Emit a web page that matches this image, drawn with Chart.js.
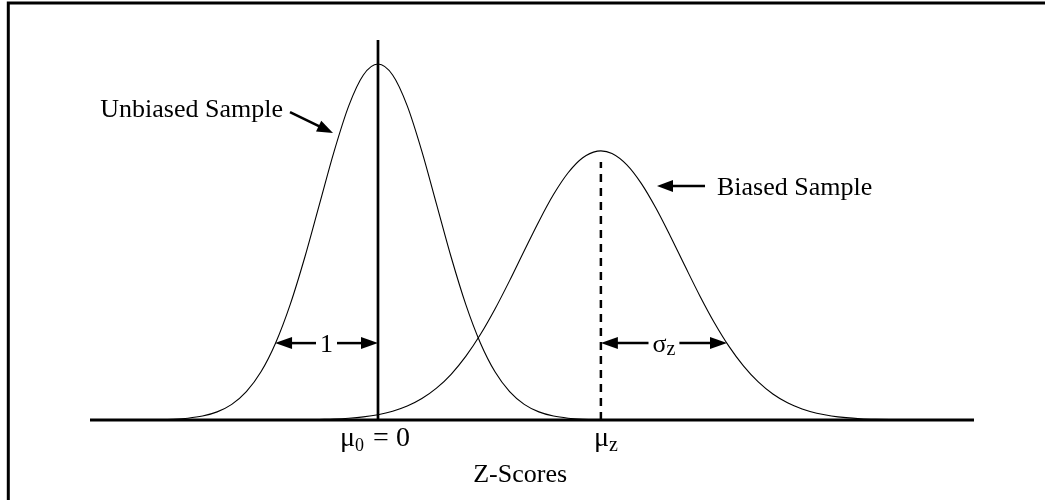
<!DOCTYPE html>
<html><head><meta charset="utf-8">
<script src="https://cdn.jsdelivr.net/npm/chart.js@4.4.0/dist/chart.umd.min.js"></script>
<style>html,body{margin:0;padding:0;background:#fff;}#wrap{width:1045px;height:500px;position:relative;}</style>
</head><body><div id="wrap"><canvas id="c" width="1045" height="500"></canvas></div>
<script>
// ---- data (x in z units, y relative to the unbiased peak) ----
const unbiasedX = [-4.75,-4.5,-4.25,-4,-3.75,-3.5,-3.25,-3,-2.75,-2.5,-2.25,-2,-1.75,-1.5,-1.25,-1,-0.75,-0.5,-0.25,0,
                   0.25,0.5,0.75,1,1.25,1.5,1.75,2,2.25,2.5,2.75,3,3.25,3.5,3.75,4,4.25,4.5,4.75];
const unbiasedY = [0,0,0.0001,0.0003,0.0009,0.0022,0.0051,0.0111,0.0228,0.0439,0.0796,0.1353,0.2163,0.3247,0.4578,0.6065,0.7548,0.8825,0.9692,1,
                   0.9692,0.8825,0.7548,0.6065,0.4578,0.3247,0.2163,0.1353,0.0796,0.0439,0.0228,0.0111,0.0051,0.0022,0.0009,0.0003,0.0001,0,0];
const biasedX = [-1,-0.75,-0.5,-0.25,0,0.25,0.5,0.75,1,1.25,1.5,1.75,2,2.25,2.5,2.75,3,3.25,3.5,3.75,3.81,
                 4,4.25,4.5,4.75,5,5.25,5.5,5.75,6,6.25,6.5,6.75,7,7.25,7.5,7.75,8,8.25,8.5,8.75,9,9.5];
const biasedY = [0.0015,0.0027,0.0050,0.0088,0.0149,0.0246,0.0391,0.0602,0.0894,0.1285,0.1786,0.2400,0.3118,0.3915,0.4754,0.5579,0.6332,0.6945,0.7367,0.7553,0.756,
                 0.7487,0.7174,0.6647,0.5953,0.5155,0.4316,0.3493,0.2733,0.2068,0.1512,0.1069,0.0730,0.0483,0.0308,0.0190,0.0114,0.0066,0.0037,0.0020,0.0010,0.0005,0];
const seriesNames = ['Unbiased Sample', 'Biased Sample'];
const meanValues = [0, 3.81];          // μ0, μz
const meanLineTops = [1.0674, 0.725];  // top of the solid / dashed mean lines
const widthLengths = [1.76, 2.156];    // length of the "1" and "σz" arrows
const widthLabels = [['1',''], ['σ','z']];
const tickLabels = [['μ','0',' = 0'], ['μ','z','']];
const axisTitle = 'Z-Scores';
const xRange = [-4.923, 10.188];
const yRange = [0, 1.0674];

const FONT = "'Liberation Serif','Times New Roman',serif";
const pts = (xs, ys) => xs.map((x, i) => ({x: x, y: ys[i]}));

function head(ctx, tx, ty, dx, dy, len, half) {
  const n = Math.hypot(dx, dy); dx /= n; dy /= n;
  const bx = tx - dx * len, by = ty - dy * len;
  ctx.beginPath();
  ctx.moveTo(tx, ty);
  ctx.lineTo(bx - dy * half, by + dx * half);
  ctx.lineTo(bx + dy * half, by - dx * half);
  ctx.closePath(); ctx.fill();
}
function pointer(ctx, x1, y1, x2, y2) {
  const dx = x2 - x1, dy = y2 - y1, n = Math.hypot(dx, dy);
  ctx.beginPath(); ctx.moveTo(x1, y1);
  ctx.lineTo(x2 - dx / n * 10, y2 - dy / n * 10); ctx.stroke();
  head(ctx, x2, y2, dx, dy, 16, 6);
}
function subText(ctx, x, y, parts, bigSize, subSize, align) {
  ctx.font = bigSize + 'px ' + FONT; const w0 = ctx.measureText(parts[0]).width;
  ctx.font = subSize + 'px ' + FONT; const w1 = ctx.measureText(parts[1]).width;
  ctx.font = bigSize + 'px ' + FONT; const w2 = parts[2] ? ctx.measureText(parts[2]).width : 0;
  const total = w0 + w1 + w2;
  let sx = align === 'center' ? x - total / 2 : x;
  ctx.textAlign = 'left'; ctx.textBaseline = 'alphabetic';
  ctx.font = bigSize + 'px ' + FONT; ctx.fillText(parts[0], sx, y);
  ctx.font = subSize + 'px ' + FONT; ctx.fillText(parts[1], sx + w0, y + 5);
  if (parts[2]) { ctx.font = bigSize + 'px ' + FONT; ctx.fillText(parts[2], sx + w0 + w1 + 2, y); }
  return total;
}
function widthArrow(ctx, xa, xb, y, parts) {
  ctx.font = '26px ' + FONT; const w0 = ctx.measureText(parts[0]).width;
  ctx.font = '20px ' + FONT; const w1 = parts[1] ? ctx.measureText(parts[1]).width : 0;
  const tw = w0 + w1, mid = (xa + xb) / 2, l = mid - tw / 2, r = mid + tw / 2;
  ctx.lineWidth = 2.5;
  ctx.beginPath(); ctx.moveTo(xa + 10, y); ctx.lineTo(l - 4, y); ctx.stroke();
  ctx.beginPath(); ctx.moveTo(r + 4, y); ctx.lineTo(xb - 10, y); ctx.stroke();
  head(ctx, xa, y, -1, 0, 17, 6);
  head(ctx, xb, y, 1, 0, 17, 6);
  ctx.textAlign = 'left'; ctx.textBaseline = 'alphabetic';
  ctx.font = '26px ' + FONT; ctx.fillText(parts[0], l, y + 9);
  if (parts[1]) { ctx.font = '20px ' + FONT; ctx.fillText(parts[1], l + w0, y + 12); }
}

const annot = {
  id: 'annot',
  beforeDraw(chart) {
    const ctx = chart.ctx; ctx.save();
    ctx.fillStyle = '#fff'; ctx.fillRect(0, 0, chart.width, chart.height);
    ctx.strokeStyle = '#000'; ctx.lineWidth = 3;
    ctx.beginPath(); ctx.moveTo(8.3, 500); ctx.lineTo(8.3, 3); ctx.lineTo(1045, 3); ctx.stroke();
    ctx.restore();
  },
  afterDatasetsDraw(chart) {
    const ctx = chart.ctx, xs = chart.scales.x, ys = chart.scales.y;
    const X = v => xs.getPixelForValue(v), Y = v => ys.getPixelForValue(v);
    ctx.save();
    ctx.fillStyle = '#000'; ctx.strokeStyle = '#000';
    ctx.font = '26px ' + FONT; ctx.textBaseline = 'alphabetic';
    ctx.textAlign = 'right'; ctx.fillText(seriesNames[0], X(-1.624), Y(0.851));
    ctx.textAlign = 'left'; ctx.fillText(seriesNames[1], X(5.795), Y(0.632));
    ctx.lineWidth = 2.5;
    pointer(ctx, X(-1.504), Y(0.865), X(-0.769), Y(0.806));
    pointer(ctx, X(5.59), Y(0.657), X(4.769), Y(0.657));
    widthArrow(ctx, X(meanValues[0] - widthLengths[0]), X(meanValues[0]), Y(0.216), widthLabels[0]);
    widthArrow(ctx, X(meanValues[1]), X(meanValues[1] + widthLengths[1]), Y(0.216), widthLabels[1]);
    const base = Y(0);
    subText(ctx, X(meanValues[0]) - 4, base + 26, tickLabels[0], 28, 18, 'center');
    subText(ctx, X(meanValues[1]) - 7, base + 26, tickLabels[1], 28, 20, 'left');
    ctx.font = '26px ' + FONT; ctx.textAlign = 'center';
    ctx.fillText(axisTitle, X(2.43), base + 62);
    ctx.restore();
  }
};

new Chart(document.getElementById('c'), {
  type: 'scatter',
  data: {
    datasets: [
      {label: seriesNames[0], data: pts(unbiasedX, unbiasedY), showLine: true, borderColor: '#000', borderWidth: 1.1, pointRadius: 0, cubicInterpolationMode: 'monotone', clip: false},
      {label: seriesNames[1], data: pts(biasedX, biasedY), showLine: true, borderColor: '#000', borderWidth: 1.1, pointRadius: 0, cubicInterpolationMode: 'monotone', clip: false},
      {label: 'axis', data: [{x: xRange[0], y: 0}, {x: xRange[1], y: 0}], showLine: true, borderColor: '#000', borderWidth: 3, pointRadius: 0, clip: false},
      {label: 'mean0', data: [{x: meanValues[0], y: 0}, {x: meanValues[0], y: meanLineTops[0]}], showLine: true, borderColor: '#000', borderWidth: 2.7, pointRadius: 0, clip: false},
      {label: 'meanz', data: [{x: meanValues[1], y: 0}, {x: meanValues[1], y: meanLineTops[1]}], showLine: true, borderColor: '#000', borderWidth: 2.5, borderDash: [8, 6], pointRadius: 0, clip: false}
    ]
  },
  options: {
    responsive: false, animation: false,
    layout: {padding: {left: 90, right: 71, top: 40, bottom: 80}},
    plugins: {legend: {display: false}, tooltip: {enabled: false}},
    scales: {
      x: {type: 'linear', display: false, min: xRange[0], max: xRange[1]},
      y: {type: 'linear', display: false, min: yRange[0], max: yRange[1]}
    }
  },
  plugins: [annot]
});
</script></body></html>
